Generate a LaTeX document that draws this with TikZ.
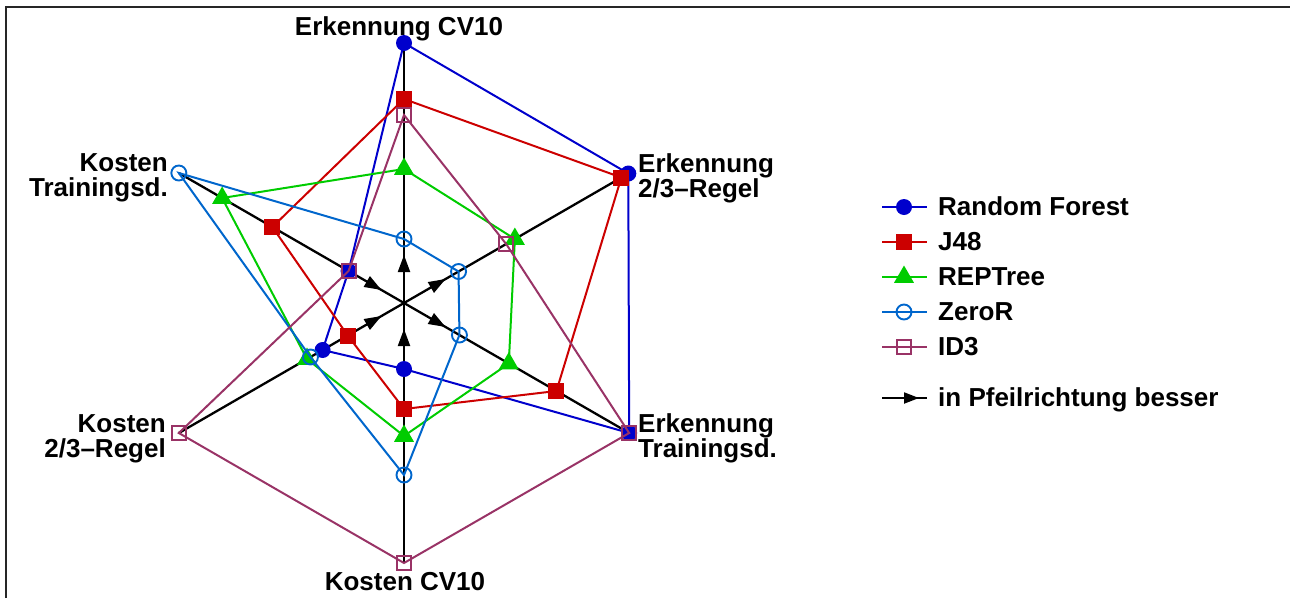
\documentclass[tikz,border=0pt]{standalone}
\usepackage{fontspec}
\setmainfont{Liberation Sans}
\usetikzlibrary{shapes.geometric,arrows.meta}
\definecolor{rfc}{RGB}{0,0,204}
\definecolor{jc}{RGB}{204,0,0}
\definecolor{rc}{RGB}{0,204,0}
\definecolor{zc}{RGB}{0,102,204}
\definecolor{ic}{RGB}{153,51,102}
\begin{document}
\begin{tikzpicture}[x=1pt,y=-1pt,
  font=\fontsize{26}{25.8}\selectfont\bfseries,
  axisline/.style={black,line width=2.3pt},
  axarr/.style={black,line width=2pt,-{Triangle[length=17pt,width=12pt]}},
  plotline/.style={line width=2pt,line join=miter},
  rfm/.style={circle,fill=rfc,inner sep=0pt,minimum size=16pt},
  jm/.style={rectangle,fill=jc,inner sep=0pt,minimum size=16pt},
  rm/.style={regular polygon,regular polygon sides=3,fill=rc,inner sep=0pt,minimum size=23pt},
  zm/.style={circle,draw=zc,line width=1.9pt,inner sep=0pt,minimum size=15pt},
  im/.style={rectangle,draw=ic,line width=1.9pt,inner sep=0pt,minimum size=14pt},
  lbl/.style={inner sep=0pt}]
\useasboundingbox (0,0) rectangle (1290,598);
% frame
\coordinate (fbl) at (6,598);
\coordinate (ftl) at (6,7);
\coordinate (ftr) at (1290,7);
\draw[line width=1.5pt,black!85] (fbl) -- (ftl) -- (ftr);

\coordinate (ctr) at (404,303);
\begin{scope}[shift={(404,303)}]
  % axes ends
  \coordinate (ax1) at (-90:260);
  \coordinate (ax2) at (-30:260);
  \coordinate (ax3) at (30:260);
  \coordinate (ax4) at (90:260);
  \coordinate (ax5) at (150:260);
  \coordinate (ax6) at (210:260);
  % arrow segments
  \coordinate (o1a) at (-90:31); \coordinate (o1b) at (-90:48);
  \coordinate (o2a) at (-30:31); \coordinate (o2b) at (-30:48);
  \coordinate (o3a) at (30:31);  \coordinate (o3b) at (30:48);
  \coordinate (i4a) at (90:43);  \coordinate (i4b) at (90:26);
  \coordinate (i5a) at (150:43); \coordinate (i5b) at (150:26);
  \coordinate (i6a) at (210:43); \coordinate (i6b) at (210:26);
  % Random Forest
  \coordinate (rf1) at (-90:260);
  \coordinate (rf2) at (-30:259);
  \coordinate (rf3) at (30:260);
  \coordinate (rf4) at (90:66);
  \coordinate (rf5) at (150:94);
  \coordinate (rf6) at (210:64);
  % J48
  \coordinate (j1) at (-90:204);
  \coordinate (j2) at (-30:251);
  \coordinate (j3) at (30:176);
  \coordinate (j4) at (90:106);
  \coordinate (j5) at (150:65);
  \coordinate (j6) at (210:152);
  % REPTree
  \coordinate (r1) at (-90:134);
  \coordinate (r2) at (-30:128);
  \coordinate (r3) at (30:121);
  \coordinate (r4) at (90:133);
  \coordinate (r5) at (150:112);
  \coordinate (r6) at (210:210);
  % ZeroR
  \coordinate (z1) at (-90:64);
  \coordinate (z2) at (-30:63);
  \coordinate (z3) at (30:64);
  \coordinate (z4) at (90:172);
  \coordinate (z5) at (150:108);
  \coordinate (z6) at (210:260);
  % ID3
  \coordinate (i1) at (-90:188);
  \coordinate (i2) at (-30:118);
  \coordinate (i3) at (30:260);
  \coordinate (i4) at (90:260);
  \coordinate (i5) at (150:260);
  \coordinate (i6) at (210:64);
\end{scope}

% axes
\foreach \k in {1,...,6} \draw[axisline] (ctr) -- (ax\k);
\draw[axarr] (o1a) -- (o1b);
\draw[axarr] (o2a) -- (o2b);
\draw[axarr] (o3a) -- (o3b);
\draw[axarr] (i4a) -- (i4b);
\draw[axarr] (i5a) -- (i5b);
\draw[axarr] (i6a) -- (i6b);

% Random Forest
\draw[plotline,rfc] (rf1) -- (rf2) -- (rf3) -- (rf4) -- (rf5) -- (rf6) -- cycle;
\foreach \k in {1,...,6} \node[rfm] (rfm\k) at (rf\k) {};
% J48
\draw[plotline,jc] (j1) -- (j2) -- (j3) -- (j4) -- (j5) -- (j6) -- cycle;
\foreach \k in {1,...,6} \node[jm] (jm\k) at (j\k) {};
% REPTree
\draw[plotline,rc] (r1) -- (r2) -- (r3) -- (r4) -- (r5) -- (r6) -- cycle;
\foreach \k in {1,...,6} \node[rm] (rm\k) at (r\k) {};
% ZeroR
\draw[plotline,zc] (z1) -- (z2) -- (z3) -- (z4) -- (z5) -- (z6) -- cycle;
\foreach \k in {1,...,6} \node[zm] (zm\k) at (z\k) {};
% ID3
\draw[plotline,ic] (i1) -- (i2) -- (i3) -- (i4) -- (i5) -- (i6) -- cycle;
\foreach \k in {1,...,6} \node[im] (imk\k) at (i\k) {};

% axis labels
\node[lbl,anchor=base] (l1) at (399,35) {Erkennung CV10};
\node[lbl,anchor=north west,align=left] (l2) at (638,153) {Erkennung\\2/3–Regel};
\node[lbl,anchor=north west,align=left] (l3) at (638,413) {Erkennung\\Trainingsd.};
\node[lbl,anchor=base] (l4) at (405,590) {Kosten CV10};
\node[lbl,anchor=north east,align=right] (l5) at (166,414) {Kosten\\2/3–Regel};
\node[lbl,anchor=north east,align=right] (l6) at (168,153) {Kosten\\Trainingsd.};

% legend
\coordinate (la1) at (882,207); \coordinate (lb1) at (927,207);
\coordinate (la2) at (882,242); \coordinate (lb2) at (927,242);
\coordinate (la3) at (882,277); \coordinate (lb3) at (927,277);
\coordinate (la4) at (882,312); \coordinate (lb4) at (927,312);
\coordinate (la5) at (882,347); \coordinate (lb5) at (927,347);
\coordinate (la6) at (882,398); \coordinate (lt6) at (919,398); \coordinate (lb6) at (927,398);
\draw[plotline,rfc] (la1) -- (lb1); \node[rfm] (lm1) at (904,207) {};
\draw[plotline,jc] (la2) -- (lb2); \node[jm] (lm2) at (904,242) {};
\draw[plotline,rc] (la3) -- (lb3); \node[rm] (lm3) at (904,277) {};
\draw[plotline,zc] (la4) -- (lb4); \node[zm] (lm4) at (904,312) {};
\draw[plotline,ic] (la5) -- (lb5); \node[im] (lm5) at (904,347) {};
\draw[black,line width=2pt] (la6) -- (lb6);
\draw[black,line width=2pt,-{Triangle[length=15pt,width=11pt]}] (la6) -- (lt6);
\node[lbl,anchor=base west] (lt1) at (938,215) {Random Forest};
\node[lbl,anchor=base west] (lt2) at (938,250) {J48};
\node[lbl,anchor=base west] (lt3) at (938,285) {REPTree};
\node[lbl,anchor=base west] (lt4) at (938,320) {ZeroR};
\node[lbl,anchor=base west] (lt5) at (938,355) {ID3};
\node[lbl,anchor=base west] (lt6n) at (938,406) {in Pfeilrichtung besser};
\end{tikzpicture}
\end{document}
